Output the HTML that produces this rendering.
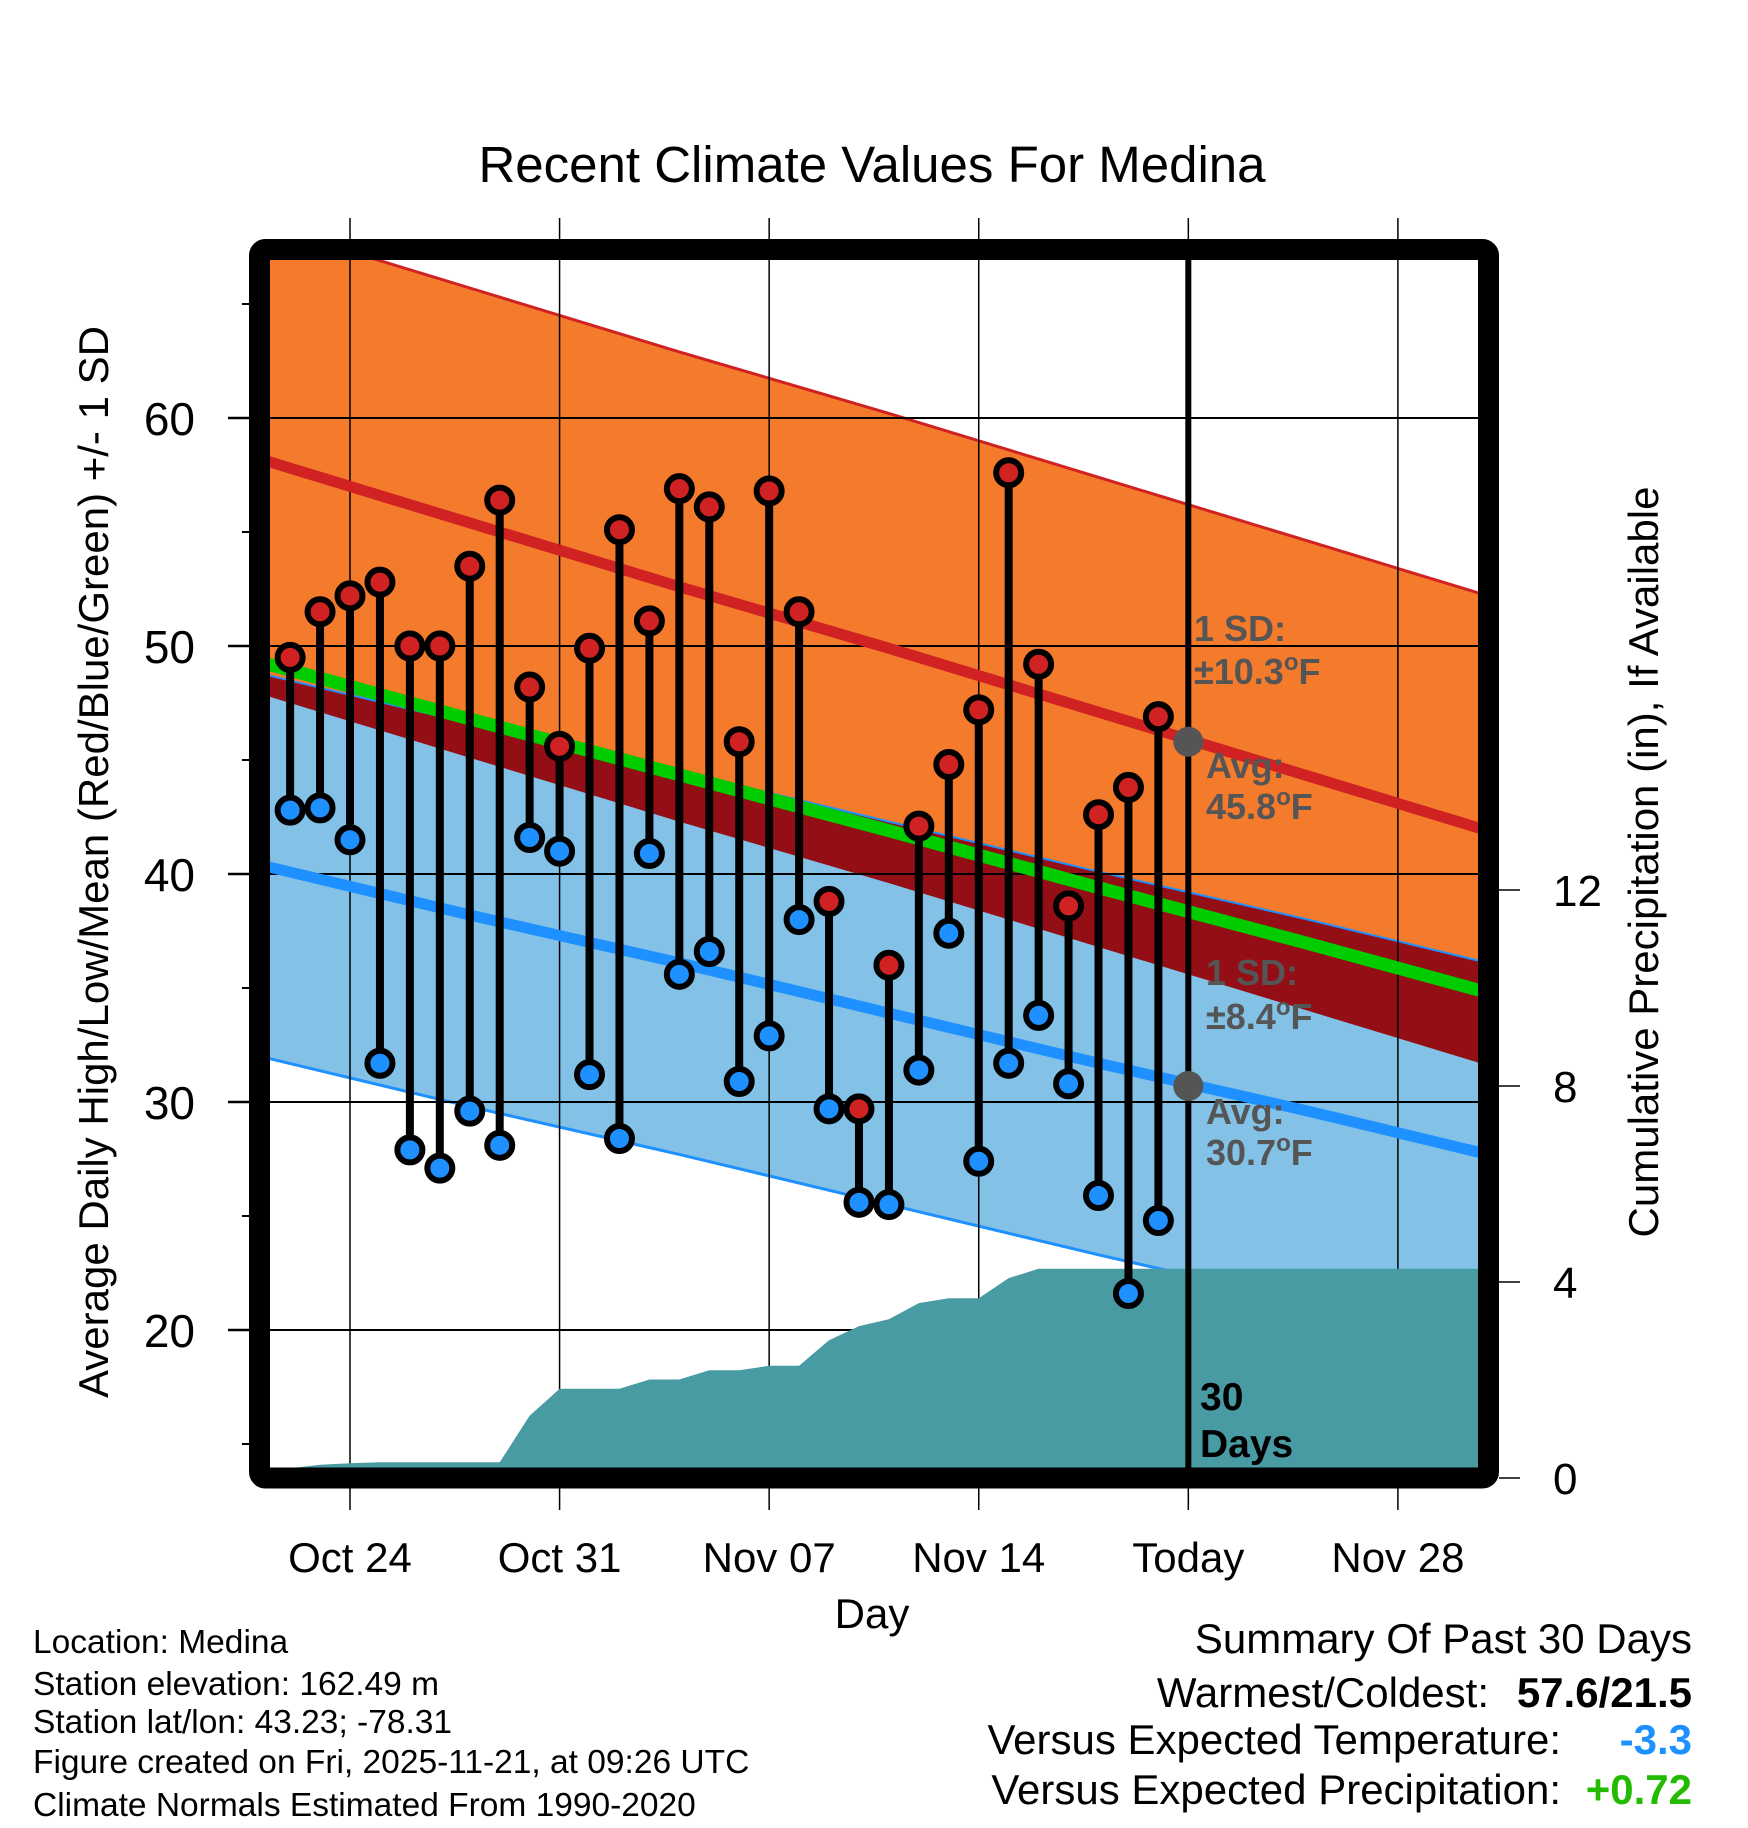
<!DOCTYPE html>
<html><head><meta charset="utf-8"><style>
html,body{margin:0;padding:0;background:#fff;}
svg{display:block;font-family:"Liberation Sans",Arial,sans-serif;}
</style></head><body>
<svg id="chart" width="1748" height="1828" viewBox="0 0 1748 1828" xmlns="http://www.w3.org/2000/svg">
<defs><clipPath id="plotclip"><rect x="270" y="260" width="1208" height="1208"/></clipPath></defs>
<text x="872" y="182" font-size="51" text-anchor="middle">Recent Climate Values For Medina</text>
<g id="plot" clip-path="url(#plotclip)"></g>
<rect x="259.5" y="249.5" width="1229" height="1228.5" rx="6" fill="none" stroke="#000" stroke-width="21"/>
<g id="axes"></g>
<text x="872" y="1628" font-size="42" text-anchor="middle">Day</text>
<text transform="translate(108,862) rotate(-90)" font-size="42" text-anchor="middle">Average Daily High/Low/Mean (Red/Blue/Green) +/- 1 SD</text>
<text transform="translate(1658,862) rotate(-90)" font-size="42" text-anchor="middle">Cumulative Precipitation (in), If Available</text>
<g font-size="33.5">
<text x="33" y="1653">Location: Medina</text>
<text x="33" y="1695">Station elevation: 162.49 m</text>
<text x="33" y="1733">Station lat/lon: 43.23; -78.31</text>
<text x="33" y="1773">Figure created on Fri, 2025-11-21, at 09:26 UTC</text>
<text x="33" y="1816">Climate Normals Estimated From 1990-2020</text>
</g>
<g font-size="42" text-anchor="end">
<text x="1692" y="1653">Summary Of Past 30 Days</text>
<text x="1489" y="1707">Warmest/Coldest:</text>
<text x="1692" y="1707" font-weight="bold">57.6/21.5</text>
<text x="1561" y="1754">Versus Expected Temperature:</text>
<text x="1692" y="1754" font-weight="bold" fill="#1e90ff">-3.3</text>
<text x="1561" y="1804">Versus Expected Precipitation:</text>
<text x="1692" y="1804" font-weight="bold" fill="#22bb00">+0.72</text>
</g>
</svg>
<script>
// days since Oct 24
const obsDays = [-2,-1,0,1,2,3,4,5,6,7,8,9,10,11,12,13,14,15,16,17,18,19,20,21,22,23,24,25,26,27];
const highs = [49.5,51.5,52.2,52.8,50.0,50.0,53.5,56.4,48.2,45.6,49.9,55.1,51.1,56.9,56.1,45.8,56.8,51.5,38.8,29.7,36.0,42.1,44.8,47.2,57.6,49.2,38.6,42.6,43.8,46.9];
const lows = [42.8,42.9,41.5,31.7,27.9,27.1,29.6,28.1,41.6,41.0,31.2,28.4,40.9,35.6,36.6,30.9,32.9,38.0,29.7,25.6,25.5,31.4,37.4,27.4,31.7,33.8,30.8,25.9,21.6,24.8];
const precip = [0.2,0.27,0.3,0.32,0.32,0.32,0.32,0.32,1.27,1.82,1.82,1.82,2.01,2.01,2.2,2.2,2.29,2.29,2.81,3.1,3.24,3.57,3.67,3.67,4.08,4.27,4.27,4.27,4.27,4.27];
const normDays = [-3,4,11,18,25,32,38];
const normHigh = [58.2,55.4,52.6,49.9,47.1,44.3,41.9];
const normLow = [40.4,38.2,36.1,33.9,31.7,29.6,27.7];
const sdHigh = 10.3, sdLow = 8.4;
const todayDay = 28, todayHigh = 45.8, todayLow = 30.7;
const xTickDays = [0,7,14,21,28,35];
const xTickLabels = ["Oct 24","Oct 31","Nov 07","Nov 14","Today","Nov 28"];
const yTicks = [20,30,40,50,60];
const yMinor = [15,25,35,45,55,65];
const pTicks = [0,4,8,12];

const X = d => 350 + d*29.94;
const Y = t => 418 + (60-t)*22.8;
const P = p => 1478 - p*49;
const NS = "http://www.w3.org/2000/svg";
const plot = document.getElementById('plot'), axes = document.getElementById('axes');
function mk(tag, attrs, parent){const e=document.createElementNS(NS,tag);for(const k in attrs)e.setAttribute(k,attrs[k]);parent.appendChild(e);return e;}
const pts = (arr)=>arr.map(p=>p[0].toFixed(1)+','+p[1].toFixed(1)).join(' ');
const hiPts = off => normDays.map((d,i)=>[X(d),Y(normHigh[i]+off)]);
const loPts = off => normDays.map((d,i)=>[X(d),Y(normLow[i]+off)]);

let e;
e = mk('polygon',{points:pts(hiPts(sdHigh).concat(hiPts(-sdHigh).reverse())),fill:'#f47a2c'},plot);
 
e = mk('polygon',{points:pts(loPts(sdLow).concat(loPts(-sdLow).reverse())),fill:'#83c1e6'},plot);
 
const ovTop = normDays.map((d,i)=>[X(d),Y(Math.min(normLow[i]+sdLow,normHigh[i]+sdHigh))]);
const ovBot = normDays.map((d,i)=>[X(d),Y(Math.max(normHigh[i]-sdHigh,normLow[i]-sdLow,Math.min(normLow[i]+sdLow,normHigh[i]-sdHigh)))]);
e = mk('polygon',{points:pts(ovTop.concat(ovBot.reverse())),fill:'#940e16'},plot);
 
e = mk('polyline',{points:pts(hiPts(sdHigh)),fill:'none',stroke:'#d02222','stroke-width':3},plot);
 
e = mk('polyline',{points:pts(loPts(sdLow)),fill:'none',stroke:'#1e90ff','stroke-width':2},plot);
 
e = mk('polyline',{points:pts(loPts(-sdLow)),fill:'none',stroke:'#1e90ff','stroke-width':3},plot);
 
yTicks.forEach(t=>{const g=mk('line',{x1:270,x2:1478,y1:Y(t),y2:Y(t),stroke:'#000','stroke-width':2},plot);
 });
xTickDays.forEach(d=>{const g=mk('line',{x1:X(d),x2:X(d),y1:260,y2:1468,stroke:'#000','stroke-width':1.5},plot);
 });
e = mk('polyline',{points:pts(normDays.map((d,i)=>[X(d),Y((normHigh[i]+normLow[i])/2)])),fill:'none',stroke:'#00cc00','stroke-width':13},plot);
 
e = mk('polyline',{points:pts(hiPts(0)),fill:'none',stroke:'#d02222','stroke-width':11},plot);
 
e = mk('polyline',{points:pts(loPts(0)),fill:'none',stroke:'#1e90ff','stroke-width':11},plot);
 
const pp = [[X(-3),P(precip[0])]].concat(obsDays.map((d,i)=>[X(d),P(precip[i])])).concat([[X(38),P(precip[precip.length-1])],[X(38),1480],[X(-3),1480]]);
e = mk('polygon',{points:pts(pp),fill:'#489aa3'},plot);
 
const ann = [["1 SD:","",1194,641],["\u00b110.3","F",1194,684],["Avg:","",1206,778],["45.8","F",1206,819],["1 SD:","",1206,985],["\u00b18.4","F",1206,1029],["Avg:","",1206,1124],["30.7","F",1206,1165]];
ann.forEach(a=>{const t=mk('text',{x:a[2],y:a[3],'font-size':36,'font-weight':'bold',fill:'#555'},plot);
t.appendChild(document.createTextNode(a[0]));
if(a[1]){const s=mk('tspan',{'font-size':24,dy:-14},t);s.textContent='o';const f=mk('tspan',{dy:14},t);f.textContent=a[1];}
 });
e = mk('line',{x1:X(todayDay),x2:X(todayDay),y1:260,y2:1468,stroke:'#000','stroke-width':6},plot);
 
e = mk('circle',{cx:X(todayDay),cy:Y(todayHigh),r:15,fill:'#555'},plot);
 
e = mk('circle',{cx:X(todayDay),cy:Y(todayLow),r:15,fill:'#555'},plot);
 
[["30",1410],["Days",1457]].forEach(a=>{const t=mk('text',{x:1200,y:a[1],'font-size':39,'font-weight':'bold'},plot);t.textContent=a[0];
 });
obsDays.forEach((d,i)=>{
 const s=mk('line',{x1:X(d),x2:X(d),y1:Y(highs[i]),y2:Y(lows[i]),stroke:'#000','stroke-width':8},plot);
  
});
obsDays.forEach((d,i)=>{
 const h=mk('circle',{cx:X(d),cy:Y(highs[i]),r:12.5,fill:'#d02222',stroke:'#000','stroke-width':6},plot);
  
 const l=mk('circle',{cx:X(d),cy:Y(lows[i]),r:12.5,fill:'#1e90ff',stroke:'#000','stroke-width':6},plot);
  
});
yTicks.forEach(t=>{const l=mk('line',{x1:228,x2:250,y1:Y(t),y2:Y(t),stroke:'#000','stroke-width':2.5},axes);
 
const tx=mk('text',{x:195,y:Y(t)+17,'font-size':46,'text-anchor':'end'},axes);tx.textContent=t;
 });
yMinor.forEach(t=>{const l=mk('line',{x1:242,x2:250,y1:Y(t),y2:Y(t),stroke:'#000','stroke-width':2},axes);
 });
xTickDays.forEach((d,i)=>{
 const a=mk('line',{x1:X(d),x2:X(d),y1:218,y2:240,stroke:'#000','stroke-width':1.5},axes);
  
 const b=mk('line',{x1:X(d),x2:X(d),y1:1488,y2:1510,stroke:'#000','stroke-width':1.5},axes);
  
 const t=mk('text',{x:X(d),y:1572,'font-size':42,'text-anchor':'middle'},axes);t.textContent=xTickLabels[i];
  
});
pTicks.forEach(p=>{const l=mk('line',{x1:1499,x2:1520,y1:P(p),y2:P(p),stroke:'#000','stroke-width':1.5},axes);
 
const t=mk('text',{x:1553,y:P(p)+16,'font-size':44,'text-anchor':'start'},axes);t.textContent=p;
 });
</script>
</body></html>
